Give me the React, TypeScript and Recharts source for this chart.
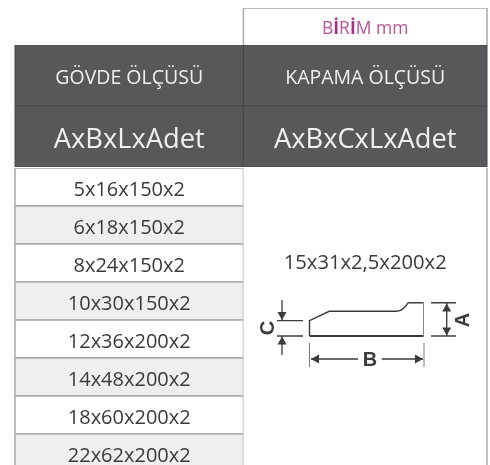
import { Bar, BarChart, Cell, LabelList, ReferenceLine, XAxis, YAxis } from "recharts";

const unitLetters = ["B", "İ", "R", "İ", "M", " mm"];
const headerLabels = ["GÖVDE ÖLÇÜSÜ", "KAPAMA ÖLÇÜSÜ"];
const formulaLabels = ["AxBxLxAdet", "AxBxCxLxAdet"];
const bodySizes = [
  "5x16x150x2",
  "6x18x150x2",
  "8x24x150x2",
  "10x30x150x2",
  "12x36x200x2",
  "14x48x200x2",
  "18x60x200x2",
  "22x62x200x2",
];
const closureSize = "15x31x2,5x200x2";
const closureRow = 2;
const columnShares = [0.484, 0.516];

const FONT = "'Open Sans', sans-serif";

const unitData = [{ row: "unit", left: columnShares[0], right: columnShares[1] }];
const headerData = [
  { row: "name", left: columnShares[0], right: columnShares[1], leftText: headerLabels[0], rightText: headerLabels[1] },
  { row: "formula", left: columnShares[0], right: columnShares[1], leftText: formulaLabels[0], rightText: formulaLabels[1] },
];
const bodyData = bodySizes.map((size, i) => ({
  row: size,
  left: columnShares[0],
  right: columnShares[1],
  leftText: size,
  rightText: i === closureRow ? closureSize : "",
}));

const chartMargin = { top: 0, right: 3, bottom: 0, left: 15 };

function CellText({ x, y, width, height, value, size, fill, dy = 0 }: any) {
  return (
    <text
      x={x + width / 2}
      y={y + height / 2 + dy}
      textAnchor="middle"
      dominantBaseline="central"
      fontFamily={FONT}
      fontSize={size}
      fill={fill}
    >
      {value}
    </text>
  );
}

function UnitText({ x, y, width, height }: any) {
  return (
    <text
      x={x + width / 2}
      y={y + height / 2}
      textAnchor="middle"
      dominantBaseline="central"
      fontFamily={FONT}
      fontSize={17.5}
      fill="#b8529a"
    >
      {unitLetters.map((letter, i) => (
        <tspan key={i} fontWeight={letter === "İ" ? 700 : 400} fill={letter === "İ" ? "#a82f86" : "#b8529a"}>
          {letter}
        </tspan>
      ))}
    </text>
  );
}

function Block({ data, height, children }: any) {
  return (
    <BarChart
      width={490}
      height={height}
      data={data}
      layout="vertical"
      margin={chartMargin}
      barCategoryGap={0}
      style={{ display: "block", overflow: "visible" }}
    >
      <XAxis type="number" domain={[0, 1]} hide />
      <YAxis type="category" dataKey="row" hide />
      {children}
    </BarChart>
  );
}

// the little cross-section drawing, not data: sits over the merged cell
function ProfileSketch() {
  const dark = "#3c3c3c";
  const arrow = (x: number, y: number, dx: number, dy: number) => (
    <polygon
      points={`${x},${y} ${x - dx * 8 - dy * 4.5},${y - dy * 8 - dx * 4.5} ${x - dx * 8 + dy * 4.5},${y - dy * 8 + dx * 4.5}`}
      fill={dark}
    />
  );
  const letter = { fontFamily: "'Liberation Sans', sans-serif", fontWeight: 700, fontSize: 20, fill: dark } as const;
  return (
    <svg width={490} height={465} style={{ position: "absolute", left: 0, top: 0 }}>
      <g fill="none" stroke={dark}>
        <path d="M309.5 336V320.7L329.3 311.3H396.7Q403 311 408.3 302.7H423.5" strokeWidth={1.4} />
        <path d="M309.5 336H423.5" strokeWidth={1.8} />
        <path d="M423.5 302.7V336" strokeWidth={1} stroke="#888" />
        <path d="M431 302.7H456M431 336H456M446.7 303V336" strokeWidth={1.4} />
        <path d="M277 320.7H303M277 336H303M282 300V320M282 336V355" strokeWidth={1.3} />
        <path d="M309.5 343V367M424 343V367" strokeWidth={1} stroke="#777" />
        <path d="M311 359H358M381.7 359H423" strokeWidth={1.3} />
      </g>
      {arrow(446.7, 303.5, 0, -1)}
      {arrow(446.7, 335.5, 0, 1)}
      {arrow(282, 320, 0, 1)}
      {arrow(282, 336.5, 0, -1)}
      {arrow(311, 359, -1, 0)}
      {arrow(423, 359, 1, 0)}
      <text {...letter} x={370} y={359} textAnchor="middle" dominantBaseline="central">B</text>
      <text {...letter} transform="translate(461.5 320) rotate(-90)" textAnchor="middle" dominantBaseline="central">A</text>
      <text {...letter} transform="translate(267 328) rotate(-90)" textAnchor="middle" dominantBaseline="central">C</text>
    </svg>
  );
}

export default function App() {
  const gray = "#ababab";
  return (
    <div style={{ position: "absolute", left: 0, top: 0, width: 490, height: 465, overflow: "hidden", background: "#fff", filter: "blur(0.4px)" }}>
      <div style={{ position: "absolute", left: 0, top: 7.5 }}>
        <Block data={unitData} height={38}>
          <Bar dataKey="left" stackId="a" fill="transparent" isAnimationActive={false} />
          <Bar dataKey="right" stackId="a" fill="#fff" stroke={gray} strokeWidth={1.5} isAnimationActive={false}>
            <LabelList dataKey="right" content={(p: any) => <UnitText {...p} />} />
          </Bar>
        </Block>
      </div>
      <div style={{ position: "absolute", left: 0, top: 45 }}>
        <Block data={headerData} height={122}>
          <Bar dataKey="left" stackId="a" fill="#58585a" stroke="#48484a" strokeWidth={1} isAnimationActive={false}>
            <LabelList
              dataKey="leftText"
              content={(p: any) => <CellText {...p} size={p.index === 0 ? 19.5 : 27.3} fill="#f0f0f0" dy={1} />}
            />
          </Bar>
          <Bar dataKey="right" stackId="a" fill="#58585a" stroke="#48484a" strokeWidth={1} isAnimationActive={false}>
            <LabelList
              dataKey="rightText"
              content={(p: any) => <CellText {...p} size={p.index === 0 ? 19.5 : 27.3} fill="#f0f0f0" dy={1} />}
            />
          </Bar>
        </Block>
      </div>
      <div style={{ position: "absolute", left: 0, top: 167.7 }}>
        <Block data={bodyData} height={304}>
          <Bar dataKey="left" stackId="a" stroke={gray} strokeWidth={1.5} isAnimationActive={false}>
            {bodyData.map((row, i) => (
              <Cell key={row.row} fill={i % 2 === 0 ? "#ffffff" : "#efefef"} />
            ))}
            <LabelList
              dataKey="leftText"
              content={(p: any) => <CellText {...p} size={20} fill="#3a3a3a" dy={1} />}
            />
          </Bar>
          <Bar dataKey="right" stackId="a" fill="#fff" isAnimationActive={false}>
            <LabelList
              dataKey="rightText"
              content={(p: any) => (p.value ? <CellText {...p} size={20.2} fill="#3a3a3a" dy={-2} /> : null)}
            />
          </Bar>
          <ReferenceLine x={1} stroke={gray} strokeWidth={1.5} />
        </Block>
      </div>
      <ProfileSketch />
    </div>
  );
}
